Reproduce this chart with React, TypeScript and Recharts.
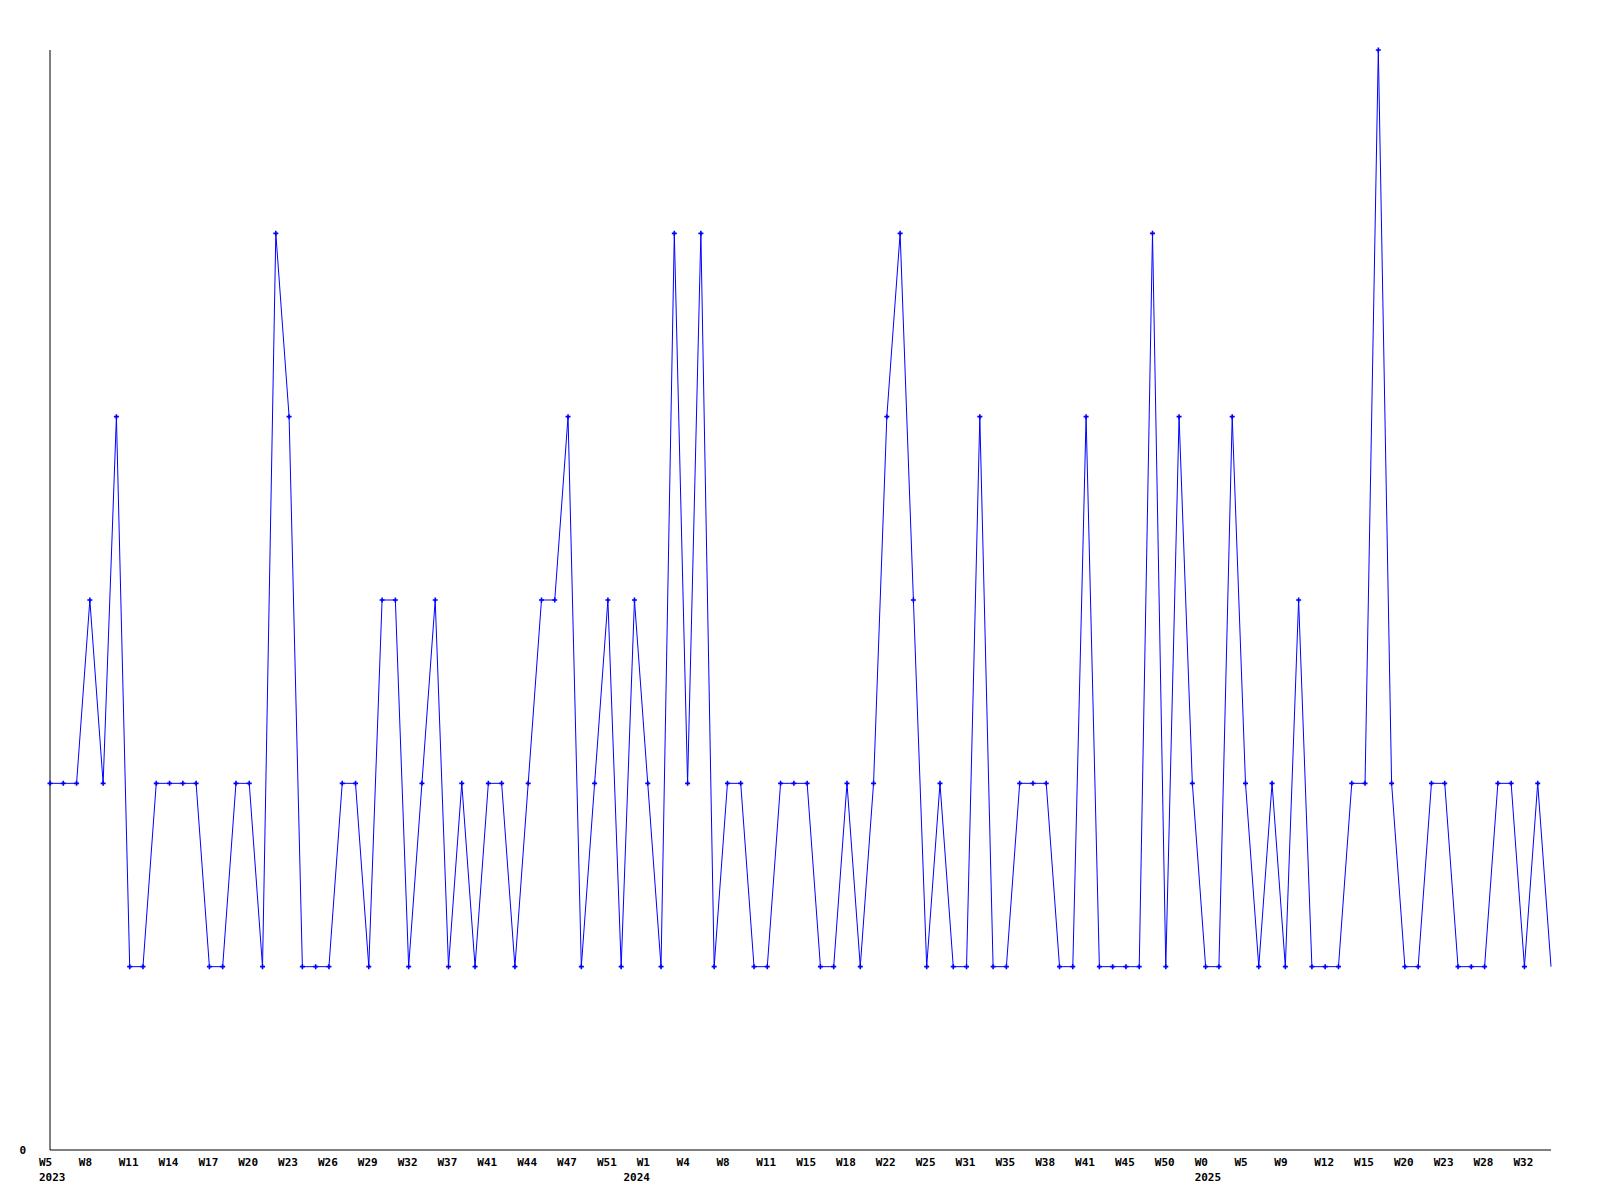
import React from 'react';
import { LineChart, Line, XAxis, YAxis } from 'recharts';

const weeks: string[] = [
  'W5', 'W6', 'W7', 'W8', 'W9', 'W10', 'W11', 'W12', 'W13', 'W14',
  'W15', 'W16', 'W17', 'W18', 'W19', 'W20', 'W21', 'W22', 'W23', 'W24',
  'W25', 'W26', 'W27', 'W28', 'W29', 'W30', 'W31', 'W32', 'W34', 'W36',
  'W37', 'W39', 'W40', 'W41', 'W42', 'W43', 'W44', 'W45', 'W46', 'W47',
  'W48', 'W50', 'W51', 'W52', 'W0', 'W1', 'W2', 'W3', 'W4', 'W6',
  'W7', 'W8', 'W9', 'W10', 'W11', 'W13', 'W14', 'W15', 'W16', 'W17',
  'W18', 'W20', 'W21', 'W22', 'W23', 'W24', 'W25', 'W27', 'W29', 'W31',
  'W32', 'W34', 'W35', 'W36', 'W37', 'W38', 'W39', 'W40', 'W41', 'W42',
  'W44', 'W45', 'W47', 'W48', 'W50', 'W51', 'W52', 'W0', 'W2', 'W4',
  'W5', 'W7', 'W8', 'W9', 'W10', 'W11', 'W12', 'W13', 'W14', 'W15',
  'W17', 'W18', 'W20', 'W21', 'W22', 'W23', 'W25', 'W26', 'W28', 'W29',
  'W31', 'W32', 'W33', 'W34',
];

const values: number[] = [
  2, 2, 2, 3, 2, 4, 1, 1, 2, 2,
  2, 2, 1, 1, 2, 2, 1, 5, 4, 1,
  1, 1, 2, 2, 1, 3, 3, 1, 2, 3,
  1, 2, 1, 2, 2, 1, 2, 3, 3, 4,
  1, 2, 3, 1, 3, 2, 1, 5, 2, 5,
  1, 2, 2, 1, 1, 2, 2, 2, 1, 1,
  2, 1, 2, 4, 5, 3, 1, 2, 1, 1,
  4, 1, 1, 2, 2, 2, 1, 1, 4, 1,
  1, 1, 1, 5, 1, 4, 2, 1, 1, 4,
  2, 1, 2, 1, 3, 1, 1, 1, 2, 2,
  6, 2, 1, 1, 2, 2, 1, 1, 1, 2,
  2, 1, 2, 1,
];

const yearStartIndex: number[] = [0, 44, 87];
const yearLabels: string[] = ['2023', '2024', '2025'];
const yTicks: number[] = [0];
const labelEvery = 3;

const data = weeks.map((w, i) => ({ i, week: w, value: values[i] }));
const xTicks: number[] = Array.from(
  new Set([
    ...weeks.map((_, i) => i).filter((i) => i % labelEvery === 0),
    ...yearStartIndex,
  ])
).sort((a, b) => a - b);

const FONT = '"DejaVu Sans Mono", monospace';

const XTick = (props: any) => {
  const { x, y, payload } = props;
  const idx: number = payload.value;
  const yi = yearStartIndex.indexOf(idx);
  return (
    <g>
      {idx % labelEvery === 0 && (
        <text x={x - 11} y={y + 15.5} textAnchor="start" fontFamily={FONT} fontWeight="bold" fontSize={11} fill="#000">
          {weeks[idx]}
        </text>
      )}
      {yi >= 0 && (
        <text x={x - 11} y={y + 31} textAnchor="start" fontFamily={FONT} fontWeight="bold" fontSize={11} fill="#000">
          {yearLabels[yi]}
        </text>
      )}
    </g>
  );
};

const YTick = (props: any) => {
  const { x, y, payload } = props;
  return (
    <text x={x - 30.5} y={y + 4} textAnchor="start" fontFamily={FONT} fontWeight="bold" fontSize={11} fill="#000">
      {payload.value}
    </text>
  );
};

const Dot = (props: any) => {
  const { cx, cy, index } = props;
  if (index === values.length - 1 || cx == null || cy == null) return <g key={`d${index}`} />;
  return (
    <path
      key={`d${index}`}
      d={`M${cx - 2.5},${cy} h5 M${cx},${cy - 2.5} v5`}
      stroke="#0000ff"
      strokeWidth={1.6}
      fill="none"
    />
  );
};

export default function App() {
  return (
    <div style={{ position: 'absolute', left: 0, top: 0, background: '#fff' }}>
      <LineChart width={1600} height={1200} data={data} margin={{ top: 50, right: 49, bottom: 0, left: 0 }}>
        <XAxis
          dataKey="i"
          type="category"
          ticks={xTicks}
          interval={0}
          tick={<XTick />}
          tickLine={false}
          tickSize={0}
          tickMargin={0}
          height={50}
          axisLine={{ stroke: '#000', strokeWidth: 1 }}
        />
        <YAxis
          domain={[0, 6]}
          ticks={yTicks}
          tick={<YTick />}
          tickLine={false}
          tickSize={0}
          tickMargin={0}
          width={50}
          axisLine={{ stroke: '#000', strokeWidth: 1 }}
        />
        <Line
          type="linear"
          dataKey="value"
          stroke="#0000ff"
          strokeWidth={1}
          dot={Dot}
          activeDot={false}
          isAnimationActive={false}
        />
      </LineChart>
    </div>
  );
}
